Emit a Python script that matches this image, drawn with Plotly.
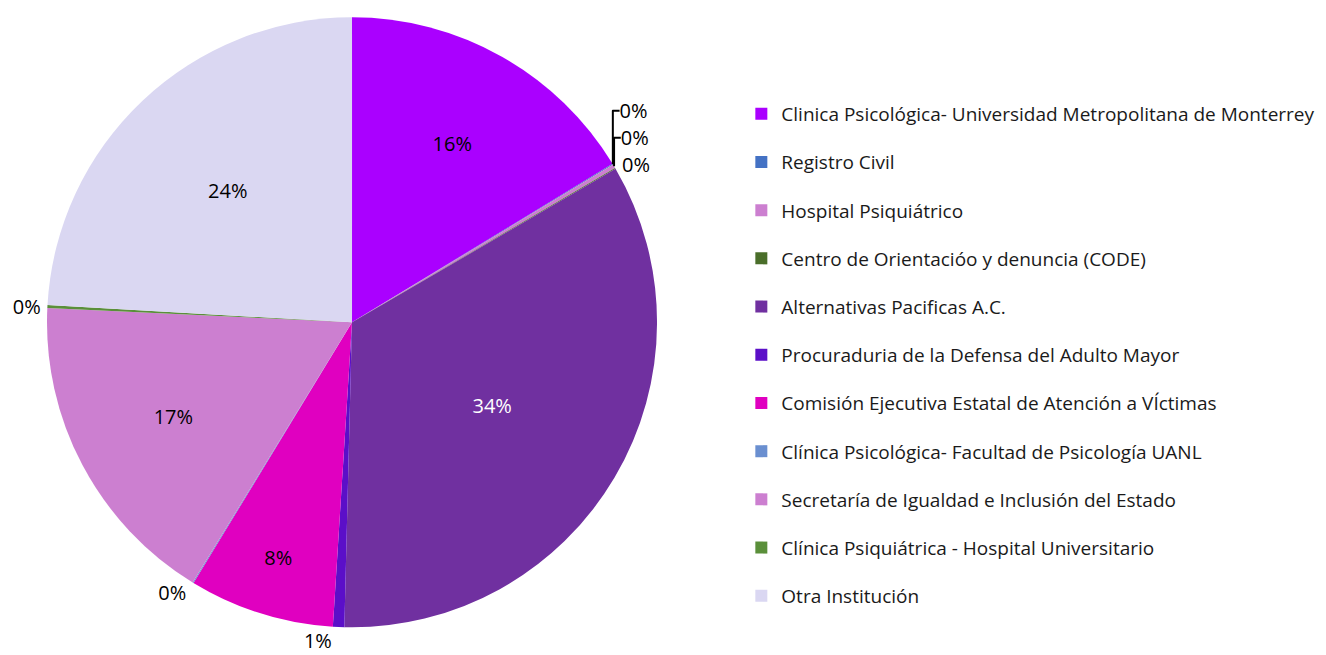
import plotly.graph_objects as go

labels = [
    "Clinica Psicológica- Universidad Metropolitana de Monterrey",
    "Registro Civil",
    "Hospital Psiquiátrico",
    "Centro de Orientacióo y denuncia (CODE)",
    "Alternativas Pacificas A.C.",
    "Procuraduria de la Defensa del Adulto Mayor",
    "Comisión Ejecutiva Estatal de Atención a VÍctimas",
    "Clínica Psicológica- Facultad de Psicología UANL",
    "Secretaría de Igualdad e Inclusión del Estado",
    "Clínica Psiquiátrica - Hospital Universitario",
    "Otra Institución",
]
values = [16.3, 0.05, 0.2, 0.05, 33.8, 0.6, 7.7, 0.05, 17.0, 0.15, 24.1]
colors = ["#AA00FF", "#4472C4", "#CC7FD0", "#4A6E2A", "#7030A0", "#5B0FC8",
          "#E000C0", "#6A8FD0", "#CC7FD0", "#5A8F3A", "#DAD7F2"]
text_colors = ["#000000"] * len(labels)
text_colors[4] = "#FFFFFF"
positions = ["inside" if v >= 5 else "outside" for v in values]

FONT = "Open Sans"

fig = go.Figure()
fig.add_trace(go.Pie(
    labels=labels, values=values, sort=False, direction="clockwise", rotation=0,
    marker=dict(colors=colors, line=dict(width=0)),
    texttemplate="%{percent:.0%}", textposition=positions,
    insidetextorientation="horizontal",
    textfont=dict(family=FONT, size=20, color=text_colors),
    outsidetextfont=dict(family=FONT, size=20, color="#000000"),
    showlegend=False, hoverinfo="label+percent",
    domain=dict(x=[0.0, 0.474], y=[30/655, 1.0]),
))
for lab, col in zip(labels, colors):
    fig.add_trace(go.Scatter(
        x=[None], y=[None], mode="markers", name=lab, legendgroup=lab,
        marker=dict(symbol="square", size=12, color=col),
    ))

fig.update_layout(
    width=1326, height=655, margin=dict(l=0, r=0, t=0, b=0),
    paper_bgcolor="white", plot_bgcolor="white",
    xaxis=dict(visible=False), yaxis=dict(visible=False),
    legend=dict(x=0.5395, y=0.472, xanchor="left", yanchor="middle",
                font=dict(family=FONT, size=19, color="#1a1a1a"),
                tracegroupgap=20.5, itemsizing="constant"),
    font=dict(family=FONT),
)
fig.write_html("out.html")
